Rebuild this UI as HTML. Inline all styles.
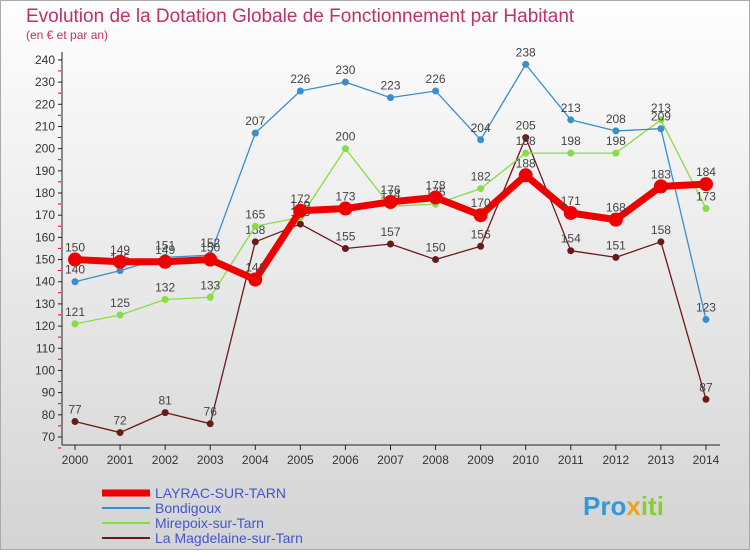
<!DOCTYPE html>
<html><head><meta charset="utf-8"><style>
body{margin:0;width:750px;height:550px;overflow:hidden;font-family:"Liberation Sans",sans-serif;}
</style></head><body>
<svg width="750" height="550" xmlns="http://www.w3.org/2000/svg">
<defs><linearGradient id="bg" x1="0" y1="0" x2="0" y2="1"><stop offset="0" stop-color="#fefefe"/><stop offset="1" stop-color="#d4d4d4"/></linearGradient></defs>
<rect x="0.5" y="0.5" width="749" height="549" fill="url(#bg)" stroke="#aaa"/>
<text x="26" y="22" font-size="19" fill="#c0306a">Evolution de la Dotation Globale de Fonctionnement par Habitant</text>
<text x="26" y="39" font-size="12" fill="#c0306a">(en € et par an)</text>
<g id="axes"></g><g id="series"></g><g id="legend"></g>
<text x="583" y="515" font-size="26" font-weight="bold" fill="#3399dd">Pro<tspan fill="#f0a020">x</tspan><tspan fill="#88cc33">iti</tspan></text>
</svg>
<script>
const years=[2000,2001,2002,2003,2004,2005,2006,2007,2008,2009,2010,2011,2012,2013,2014];
const yTicks=[70,80,90,100,110,120,130,140,150,160,170,180,190,200,210,220,230,240];
const layrac=[150,149,149,150,141,172,173,176,178,170,188,171,168,183,184];
const bondigoux=[140,145,151,152,207,226,230,223,226,204,238,213,208,209,123];
const mirepoix=[121,125,132,133,165,169,200,174,175,182,198,198,198,213,173];
const magdelaine=[77,72,81,76,158,166,155,157,150,156,205,154,151,158,87];
const NS="http://www.w3.org/2000/svg";
const X=i=>75+i*45.07, Y=v=>437-(v-70)*22.18/10;
function mk(t,a,p){const e=document.createElementNS(NS,t);for(const k in a)e.setAttribute(k,a[k]);p.appendChild(e);return e;}
const ax=document.getElementById('axes');
let l=mk('line',{x1:62,y1:52,x2:62,y2:445,stroke:'#222'},ax);


l=mk('line',{x1:62,y1:445,x2:720,y2:445,stroke:'#222'},ax);


yTicks.forEach(v=>{const y=Y(v);
 mk('line',{x1:58,y1:y,x2:62,y2:y,stroke:'#222'},ax);
 mk('line',{x1:58,y1:y+11,x2:61,y2:y+11,stroke:'#e00'},ax);
 const t=mk('text',{x:55,y:y+4,'font-size':12,'text-anchor':'end',fill:'#333'},ax);t.textContent=v;
 
 });
years.forEach((yr,i)=>{const x=X(i);
 mk('line',{x1:x,y1:445,x2:x,y2:450,stroke:'#222'},ax);
 const t=mk('text',{x:x,y:464,'font-size':12,'text-anchor':'middle',fill:'#333'},ax);t.textContent=yr;
 
 });
const sg=document.getElementById('series');
function series(d,col,w,r,name){const g=mk('g',{},sg);
 
 
 mk('polyline',{points:d.map((v,i)=>X(i)+','+Y(v)).join(' '),fill:'none',stroke:col,'stroke-width':w,'stroke-linejoin':'round'},g);
 d.forEach((v,i)=>{const c=mk('circle',{cx:X(i),cy:Y(v),r:r,fill:col},g);
  
  
  const t=mk('text',{x:X(i),y:Y(v)-8,'font-size':12,'text-anchor':'middle',fill:'#444'},g);t.textContent=v;
  
  });}
series(magdelaine,'#6b1a1a',1.3,3.5,'magdelaine-series');
series(mirepoix,'#88dd44',1.3,3.5,'mirepoix-series');
series(bondigoux,'#3a8ecb',1.3,3.5,'bondigoux-series');
series(layrac,'#ee0000',7,7,'layrac-series');
const lg=document.getElementById('legend');
const items=[['LAYRAC-SUR-TARN','#ee0000',7],['Bondigoux','#3a8ecb',2],['Mirepoix-sur-Tarn','#88dd44',2],['La Magdelaine-sur-Tarn','#6b1a1a',2]];
items.forEach((it,i)=>{const y=493+i*15;const g=mk('g',{},lg);
 
 
 mk('line',{x1:102,y1:y,x2:150,y2:y,stroke:it[1],'stroke-width':it[2]},g);
 const t=mk('text',{x:155,y:y+5,'font-size':14,fill:'#4455cc'},g);t.textContent=it[0];});
</script>
</body></html>
